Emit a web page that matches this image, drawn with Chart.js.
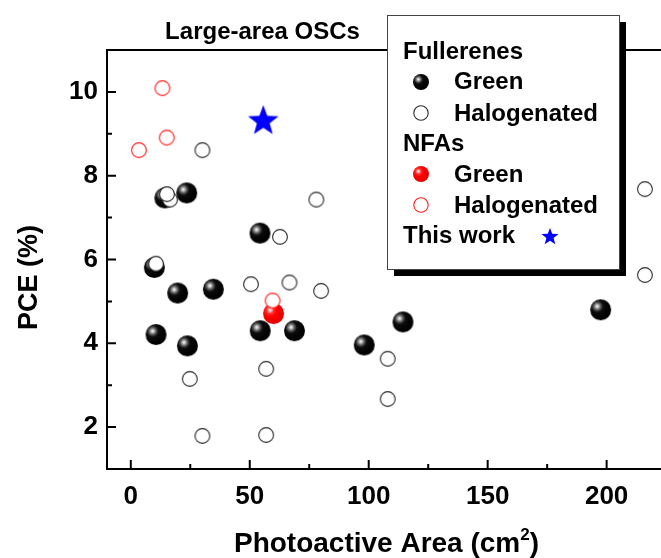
<!DOCTYPE html>
<html>
<head>
<meta charset="utf-8">
<script src="https://cdn.jsdelivr.net/npm/chart.js@4/dist/chart.umd.min.js"></script>
<style>
  html, body { margin: 0; padding: 0; background: #fff; overflow: hidden; }
  #wrap { width: 700px; height: 558px; }
</style>
</head>
<body>
<div id="wrap"><canvas id="c" width="700" height="558"></canvas></div>
<script>
// Photoactive area (cm²) and PCE (%) for each group of devices
const fullGreenArea = [14.3, 23.5, 9.9, 19.7, 34.7, 10.6, 23.8, 54.3, 54.4, 68.8, 98.1, 114.4, 197.5];
const fullGreenPCE  = [7.47, 7.59, 5.81, 5.20, 5.29, 4.21, 3.94, 6.63, 4.30, 4.30, 3.96, 4.51, 4.80];

const fullHaloArea = [30.1, 16.5, 15.2, 10.6, 24.8, 30.1, 78.0, 62.7, 50.5, 66.7, 80.0, 56.9, 56.9, 108.0, 108.0, 216.1, 216.1];
const fullHaloPCE  = [8.61, 7.43, 7.56, 5.90, 3.15, 1.79, 7.43, 6.54, 5.41, 5.45, 5.25, 3.39, 1.81, 3.63, 2.67, 7.68, 5.63];

const nfaGreenArea = [60.0];
const nfaGreenPCE  = [4.71];

const nfaHaloArea = [3.4, 13.3, 15.1, 59.6];
const nfaHaloPCE  = [8.61, 10.09, 8.91, 5.02];

const thisWorkArea = [55.7];
const thisWorkPCE  = [9.34];

const xTickValues  = [0, 50, 100, 150, 200];
const xMinorValues = [25, 75, 125, 175, 225];
const yTickValues  = [2, 4, 6, 8, 10];
const yMinorValues = [3, 5, 7, 9];

const FONT = "'Liberation Sans', Arial, sans-serif";

const toPoints = (xs, ys) => xs.map((x, i) => ({ x: x, y: ys[i] }));

// Shaded ball marker
function sphere(r, stops) {
  const s = Math.ceil(r * 2) + 2;
  const c = document.createElement('canvas');
  c.width = c.height = s;
  const g = c.getContext('2d');
  const cx = s / 2, cy = s / 2;
  const hx = cx - 0.33 * r, hy = cy - 0.33 * r;
  const grad = g.createRadialGradient(hx, hy, 0, hx, hy, r * 1.2);
  stops.forEach(([o, col]) => grad.addColorStop(o, col));
  g.fillStyle = grad;
  g.beginPath();
  g.arc(cx, cy, r, 0, Math.PI * 2);
  g.fill();
  return c;
}
const blackStops = [[0, '#ffffff'], [0.08, '#d8d8d8'], [0.27, '#606060'], [0.47, '#0c0c0c'], [1, '#000000']];
const redStops   = [[0, '#ffffff'], [0.1, '#ffb8b8'], [0.3, '#ff2a2a'], [0.55, '#ff0000'], [1, '#e80000']];

// Open ring marker
function ring(r, color) {
  const s = Math.ceil(r * 2) + 3;
  const c = document.createElement('canvas');
  c.width = c.height = s;
  const g = c.getContext('2d');
  g.fillStyle = '#ffffff';
  g.strokeStyle = color;
  g.lineWidth = 1.1;
  g.beginPath();
  g.arc(s / 2, s / 2, r, 0, Math.PI * 2);
  g.fill();
  g.stroke();
  return c;
}

// Filled five-pointed star
function star(R, color) {
  const s = Math.ceil(R * 2) + 2;
  const c = document.createElement('canvas');
  c.width = c.height = s;
  const g = c.getContext('2d');
  const cx = s / 2, cy = s / 2 + R * 0.1;
  const ri = R * 0.42;
  g.fillStyle = color;
  g.beginPath();
  for (let i = 0; i < 10; i++) {
    const rr = i % 2 === 0 ? R : ri;
    const a = -Math.PI / 2 + i * Math.PI / 5;
    const px = cx + rr * Math.cos(a), py = cy + rr * Math.sin(a);
    if (i === 0) g.moveTo(px, py); else g.lineTo(px, py);
  }
  g.closePath();
  g.fill();
  return c;
}

const mkBlackBall = sphere(10.5, blackStops);
const mkRedBall   = sphere(10.5, redStops);
const mkBlackRing = ring(7.4, '#2a2a2a');
const mkRedRing   = ring(7.4, '#ff2020');
const mkStar      = star(16, '#0000ff');

const lgBlackBall = sphere(8, blackStops);
const lgRedBall   = sphere(8, redStops);
const lgBlackRing = ring(7.2, '#2a2a2a');
const lgRedRing   = ring(7.2, '#ff2020');
const lgStar      = star(9, '#0000ff');

// Frame, inward ticks, titles and grouped legend
const decor = {
  id: 'decor',
  afterDraw(chart) {
    const ctx = chart.ctx;
    const { left, right, top, bottom } = chart.chartArea;
    const xs = chart.scales.x, ys = chart.scales.y;
    ctx.save();

    // ticks pointing into the plot
    ctx.strokeStyle = '#000';
    ctx.lineWidth = 2;
    ctx.beginPath();
    xTickValues.forEach(v => { const p = xs.getPixelForValue(v); ctx.moveTo(p, bottom); ctx.lineTo(p, bottom - 9); });
    xMinorValues.forEach(v => { const p = xs.getPixelForValue(v); ctx.moveTo(p, bottom); ctx.lineTo(p, bottom - 5); });
    yTickValues.forEach(v => { const p = ys.getPixelForValue(v); ctx.moveTo(left, p); ctx.lineTo(left + 9, p); });
    yMinorValues.forEach(v => { const p = ys.getPixelForValue(v); ctx.moveTo(left, p); ctx.lineTo(left + 5, p); });
    ctx.stroke();

    // frame
    ctx.beginPath();
    ctx.rect(left, top, right - left, bottom - top);
    ctx.stroke();

    // chart title
    ctx.fillStyle = '#000';
    ctx.font = 'bold 24px ' + FONT;
    ctx.textAlign = 'center';
    ctx.textBaseline = 'alphabetic';
    ctx.fillText('Large-area OSCs', 262.5, 38.5);

    // x axis title with superscript
    const main = 'Photoactive Area (cm';
    ctx.font = 'bold 28px ' + FONT;
    const wMain = ctx.measureText(main).width;
    const wParen = ctx.measureText(')').width;
    ctx.font = 'bold 17px ' + FONT;
    const wSup = ctx.measureText('2').width;
    const total = wMain + wSup + wParen;
    let x0 = 386.5 - total / 2;
    ctx.textAlign = 'left';
    ctx.font = 'bold 28px ' + FONT;
    ctx.fillText(main, x0, 552);
    ctx.font = 'bold 17px ' + FONT;
    ctx.fillText('2', x0 + wMain, 540);
    ctx.font = 'bold 28px ' + FONT;
    ctx.fillText(')', x0 + wMain + wSup, 552);

    // y axis title
    ctx.save();
    ctx.translate(37, 277.5);
    ctx.rotate(-Math.PI / 2);
    ctx.textAlign = 'center';
    ctx.font = 'bold 27px ' + FONT;
    ctx.fillText('PCE (%)', 0, 0);
    ctx.restore();

    // legend box with drop shadow
    const bx = 387, by = 15, bw = 232, bh = 254;
    ctx.fillStyle = '#000';
    ctx.fillRect(bx + 7, by + 7, bw, bh);
    ctx.fillStyle = '#fff';
    ctx.fillRect(bx, by, bw, bh);
    ctx.strokeStyle = '#444';
    ctx.lineWidth = 1;
    ctx.strokeRect(bx + 0.5, by + 0.5, bw, bh);

    ctx.fillStyle = '#000';
    ctx.font = 'bold 24px ' + FONT;
    ctx.textAlign = 'left';
    ctx.textBaseline = 'middle';
    const rows = [
      { y: 51.7, head: 'Fullerenes' },
      { y: 81.7, mk: lgBlackBall, label: 'Green' },
      { y: 113.3, mk: lgBlackRing, label: 'Halogenated' },
      { y: 143.3, head: 'NFAs' },
      { y: 174, mk: lgRedBall, label: 'Green' },
      { y: 205, mk: lgRedRing, label: 'Halogenated' },
      { y: 235.7, head: 'This work', mk: lgStar, mkx: 550 }
    ];
    rows.forEach(r => {
      if (r.head) ctx.fillText(r.head, 403, r.y + 1);
      if (r.label) ctx.fillText(r.label, 454, r.y + 1);
      if (r.mk) {
        const mx = r.mkx || 421;
        ctx.drawImage(r.mk, Math.round(mx - r.mk.width / 2), Math.round(r.y - r.mk.height / 2));
      }
    });

    ctx.restore();
  }
};

new Chart(document.getElementById('c'), {
  type: 'scatter',
  data: {
    datasets: [
      { label: 'This work', data: toPoints(thisWorkArea, thisWorkPCE), pointStyle: mkStar, radius: 16 },
      { label: 'NFAs Halogenated', data: toPoints(nfaHaloArea, nfaHaloPCE), pointStyle: mkRedRing, radius: 8 },
      { label: 'Fullerenes Halogenated', data: toPoints(fullHaloArea, fullHaloPCE), pointStyle: mkBlackRing, radius: 8 },
      { label: 'NFAs Green', data: toPoints(nfaGreenArea, nfaGreenPCE), pointStyle: mkRedBall, radius: 10 },
      { label: 'Fullerenes Green', data: toPoints(fullGreenArea, fullGreenPCE), pointStyle: mkBlackBall, radius: 10 }
    ]
  },
  options: {
    responsive: false,
    animation: false,
    events: [],
    layout: { padding: { top: 50, right: 22, left: 0, bottom: 0 } },
    plugins: { legend: { display: false }, tooltip: { enabled: false }, title: { display: false } },
    scales: {
      x: {
        type: 'linear', min: -10, max: 230,
        grid: { display: false, drawTicks: false },
        border: { display: false },
        ticks: { color: '#000', padding: 12, font: { family: FONT, size: 26, weight: 'bold' } },
        afterBuildTicks: s => { s.ticks = xTickValues.map(v => ({ value: v })); },
        afterFit: s => { s.height = 89; }
      },
      y: {
        type: 'linear', min: 1, max: 11,
        grid: { display: false, drawTicks: false },
        border: { display: false },
        ticks: { color: '#000', padding: 9, font: { family: FONT, size: 26, weight: 'bold' } },
        afterBuildTicks: s => { s.ticks = yTickValues.map(v => ({ value: v })); },
        afterFit: s => { s.width = 107; }
      }
    }
  },
  plugins: [decor]
});
</script>
</body>
</html>
